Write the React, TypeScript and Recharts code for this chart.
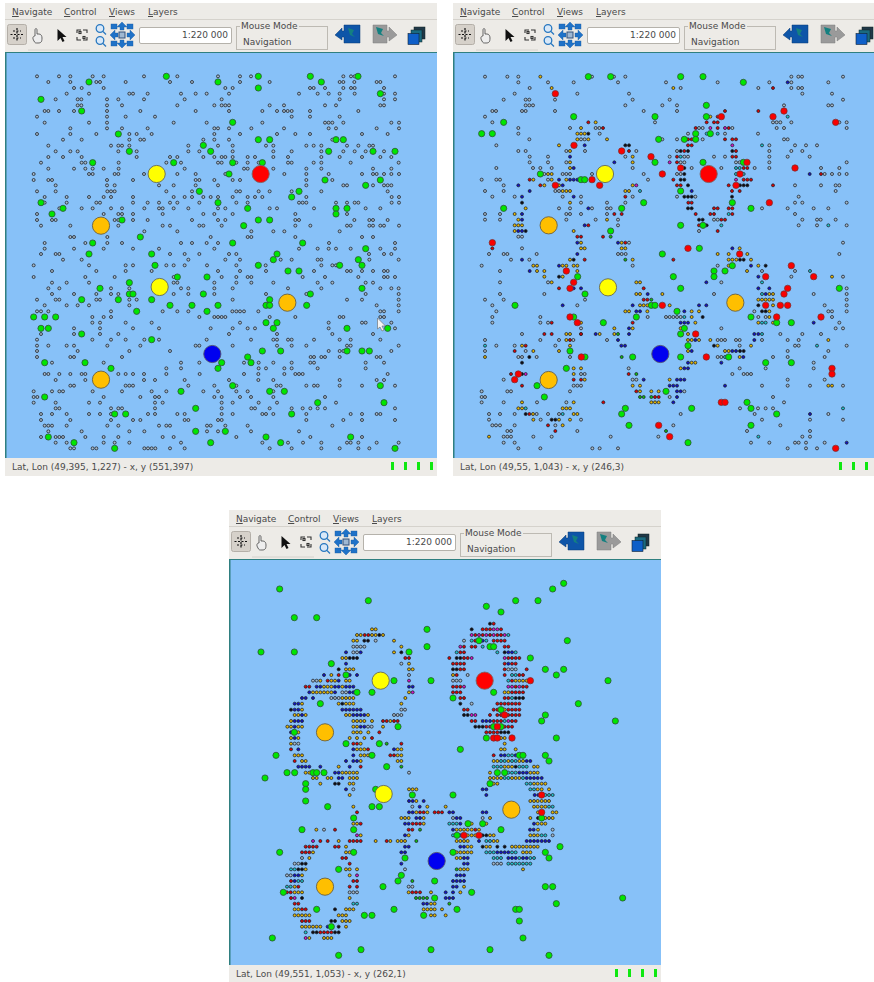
import React from "react";
import { ScatterChart, Scatter, XAxis, YAxis } from "recharts";

type Row = [number, Record<string, number[]>];

// ---------- Panel 1 (values are read at 3x scale of the picture)
const p1SmallTop: number[][] = [
  [229,111,177,211,278,311,432,532,654,720,753,1030,1053,1064,1185],
  [246,145,211,289,300,377,510,576,720,809,1019,1030,1063,1130,1141],
  [264,222,245,311,676,698,930,941,975,1030,1053,1064,1152],
  [281,200,267,388,399,443,543,587,620,687,897,953,986,1019,1064,1152,1185],
  [298,167,233,244,321,355,432,554,665,1019,1152,1185],
  [316,233,244,321,366,532,643,665,676,687,809,852,975,1008,1141,1152],
  [333,134,145,177,222,321,421,587,687,787,831,852,863,875,930,1075],
  [350,111,321,377,465,875,930,1019],
  [368,134,267,321,521,620,787,975,986,997,1030,1174,1197],
  [385,211,321,366,443,643,654,687,754,852,986,1008,1130,1197],
  [402,111,211,289,388,410,455,643,720,831,886,930,1086,1163],
  [419,189,245,388,421,432,610,643,687,997],
  [437,145,333,355,366,388,565,654,698,798,820,919,941,964,1041,1075,1108,1119],
  [454,167,211,233,355,410,565,598,698,820,875,964,1030,1064,1097,1152],
  [471,145,189,245,410,510,532,610,643,665,676,698,743,765,820,864,964,1019,1086,1141,1174],
  [488,123,245,256,356,499,543,654,665,709,743,776,864,875,941,964,1052,1196],
  [506,145,222,256,278,311,356,554,732,743,820,919,964,1119,1174],
  [522,101,267,278,344,355,432,532,587,676,853,919,986,1086,1119,1130,1152,1174,1197],
  [540,101,145,156,321,399,587,598,643,698,720,919,997],
  [556,167,321,344,477,521,587,654,919,1030,1041,1119,1152,1163,1174],
  [574,111,167,322,333,344,499,576,709,720,776,809,875,964,1163],
  [591,134,200,267,311,333,399,521,554,576,610,632,654,698,743,765,787,919,1175,1197],
  [608,134,200,289,300,399,443,477,510,532,598,709,743,897,908,919,1008,1041,1064,1075,1175,1197],
  [625,178,245,278,333,366,433,477,488,521,565,654,676,809,831,942,1097,1141],
  [642,111,311,355,366,399,488,610,643,698,886,1041],
  [660,111,156,167,344,355,399,443,576,654,676,886,897,1063,1108,1119,1163],
  [677,123,211,355,488,510,598,610,665,886,931,1041,1052,1108,1119,1141,1152,1197],
  [694,433,532,754,820,853,1019],
  [711,211,222,322,632,743,754,886,1086,1119],
  [729,134,256,322,366,543,576,620,654,987,1185],
  [746,134,222,311,399,477,643,897,953,986,1008,1052,1141,1185],
];
const p1SmallBottom: number[][] = [
  [12,123,167,178,510,554,598,687,709,1107,1152,1174],
  [29,189,245,565,676,720,842,875,953,964,1108,1196],
  [46,101,267,377,399,499,521,554,621,709,797,964,997,1008],
  [63,156,289,377,455,654,720,798,942,1041,1052,1086,1119,1152,1163],
  [81,101,256,344,521,665,709,743,754,908,975,1075,1152,1163,1185],
  [98,156,200,267,521,532,643,709,754,820,953,997,1097,1119],
  [115,145,178,333,388,543,565,643,698,864,964,1141,1174,1196],
  [132,156,222,289,333,355,521,565,643,798,919,1097,1196],
  [149,111,167,178,289,300,388,410,698,1041,1086,1196],
  [166,134,200,233,267,388,1130,1196],
  [184,111,123,145,333,488,532,565,697,709,720,732,775,1141,1152,1196],
  [201,277,311,333,598,643,654,665,676,809,886,1019,1030,1141,1152],
  [218,277,300,377,455,720,986,1086,1097,1174],
  [235,222,300,399,477,632,698,743,765,986,1185],
  [252,123,222,300,355,687,831,997,1119],
  [269,111,277,333,377,433,477,620,753,820,831,864,875,942,1019,1052,1141],
  [287,111,145,200,222,322,421,587,598,698,831,875,919,1041,1052,1196],
  [303,111,233,388,510,986,1019,1030,1174],
  [321,111,211,222,366,932,942,964,975,1019,1130,1141],
  [338,156,311,543,598,732,776,820,875,931,942,1097,1152],
  [355,499,543,776,798,853,875,953,1097],
  [372,134,145,178,211,245,256,355,377,399,432,499,599,732,775,853,886,897,908,1163],
  [390,167,256,432,465,554,687,775,820,1019,1130,1152],
  [407,211,222,377,388,399,565,643,709,830,842,919,942,953,1019,1086,1185],
  [424,101,156,178,189,278,366,455,499,610,654,709,743,820],
  [441,101,112,311,421,465,477,643,665,720,753,820,975],
  [458,101,167,267,300,465,488,665,698,776,831,1008],
  [475,167,178,333,355,366,465,665,754,765,809,875,908,931,953,975,1185],
  [492,123,156,200,267,300,333,444,465,532,554,665,698,787,798,820,919,1052,1086,1130,1141],
  [510,123,211,333,399,421,554,565,654,665,919,1030,1086,1185],
  [527,134,145,156,200,322,355,477,499,510,621,632,676,743,997],
  [544,145,245,388,433,621,654,753,897],
  [561,123,167,178,189,256,311,355,488,521,709,931,1086],
  [578,167,200,311,344,388,543,787,864,909,964,1041,1052,1075,1130,1196],
  [595,211,222,278,289,433,444,455,466,510,554,809,875,964,1019,1075,1108],
];
const p1GreenTop: number[][] = [
  [499,229],[775,229],[931,229],[1074,229],[267,246],[654,246],[964,246],[775,264],[123,298],[1141,281],[245,333],[698,367],[355,402],[775,419],[809,419],[1008,419],[1030,419],[610,436],[388,454],[632,454],[986,454],[1119,454],[1185,454],[278,488],[521,488],[698,488],[787,488],[687,522],[975,540],[1141,540],[1097,556],[598,574],[897,574],[875,591],[123,608],[189,625],[654,608],[743,625],[1008,625],[1041,625],[1008,642],[156,642],[366,660],[775,660],[809,660],[731,677],[421,711],[278,729],[698,729],[908,729],[1097,746],
];
const p1GreenBottom: number[][] = [
  [267,12],[455,12],[831,12],[820,29],[1075,29],[465,46],[775,46],[1019,46],[1086,46],[864,63],[897,63],[532,81],[621,81],[388,98],[300,115],[1086,115],[388,132],[399,132],[610,132],[931,132],[245,149],[355,149],[455,149],[809,149],[510,166],[576,166],[654,166],[798,166],[809,166],[920,166],[410,184],[621,184],[101,201],[134,201],[167,201],[798,218],[831,218],[123,235],[145,235],[820,235],[1041,235],[1163,235],[245,252],[455,269],[787,303],[842,303],[1041,303],[1086,303],[1108,303],[743,321],[134,338],[255,338],[665,338],[753,338],[333,355],[654,355],[698,407],[1141,407],[543,424],[809,424],[853,424],[134,441],[953,458],[1152,458],[587,475],[344,492],[377,492],[875,492],[587,544],[676,544],[145,561],[798,561],[1052,561],[222,578],[632,578],[842,578],[344,595],[1185,595],
];
const p1Yellow = [[470,522],[479,861]];
const p1Red = [[782,522]];
const p1Orange = [[303,677],[862,908],[303,1139]];
const p1Blue = [[637,1062]];

// ---------- Panel 2
const p2SmallTop: Row[] = [
  [80,{w:[105,172,205,426,492,526,1024,1045,1056,1179],o:[271]}],
  [97,{w:[205,294,371,504,648,803,958,1024,1135],b:[1013]}],
  [114,{w:[239,692,925,1024,1045,1056],o:[305,670],r:[969]}],
  [131,{w:[194,382,537,1057,1146]}],
  [149,{w:[161,227,238,315,548,659,1179]}],
  [166,{w:[227,238,249,526,637,681,1002,1135,1146]}],
  [183,{w:[127,138,216,227,315,581,681],r:[825,925]}],
  [200,{w:[105],o:[781],c:[1013],r:[803]}],
  [217,{w:[127,615,969,980,991,1024,1168,1190],r:[415,770,792,803],o:[437]}],
  [234,{w:[205,360,437,448,747,758,847,1190,980,1002],o:[393],r:[459,737,803,836],m:[781,825]}],
  [251,{w:[205,449,714,825,924],o:[382,393,404],k:[415],c:[770,803]}],
  [268,{w:[238,393,404,637,681,758,1002,1013],o:[382,415,471],r:[825,847,858,714,725]}],
  [286,{w:[139,1035,1068,1101,958],o:[327],b:[404],k:[526,537],c:[936],r:[714,725],m:[847]}],
  [303,{w:[205,227,349,405,559,681,958,1024,1057],o:[360],r:[537,703,858],k:[692,714,847]}],
  [320,{w:[239,294,526,659,703,714,792,825,958,1013,1079],b:[360],o:[548],c:[692],r:[681,847,858]}],
  [337,{w:[239,294,349,692,703,858,869,958,1190],o:[360,548],b:[493],m:[659],r:[681]}],
  [354,{w:[139,249,271,305,548,725,814,914,958,1113,1168],o:[360],b:[371],k:[703],c:[858,869],r:[881,892]}],
  [372,{w:[283,338,349,360,426,581,681,692,1124,1146,1168,1190],o:[294,305],r:[1113],b:[1079],k:[703],c:[858,881]}],
  [389,{w:[95,139,150,294,594],o:[250,305,349],r:[239,670,881,892,903],b:[327,360,371,382],k:[692,703],m:[858]}],
  [406,{w:[161,1035,1113,1157,1168],b:[205,338],o:[283,327,548],r:[271,681,692,836,969],m:[559],k:[714,870,881,892]}],
  [423,{w:[105,161,316,327,1157],o:[338,349,360,526,537],b:[239,725],r:[846,869],c:[570]}],
  [440,{w:[127,194,338,393,548,681,736,1046],b:[216,371],k:[703,714,725,846],r:[526]}],
  [458,{w:[393,471,526,1035,1057,1190],o:[360],k:[216],r:[715,725]}],
  [475,{w:[327,360,426,471,482,1013,1091,1135,936],o:[227],b:[415],k:[714,725],r:[792,803,836,847]}],
  [492,{w:[105,150,349,360,393,471,1035],o:[194],b:[216],r:[493,515,737,781,792,847],c:[836]}],
  [509,{w:[105,150,349,437,504,792,803,1057,1101,1112,1157],o:[205,471],b:[216],k:[747,758],r:[814,825]}],
  [526,{w:[1046,1101,1190,504],c:[1135,814],o:[194,205,216],b:[404],r:[415,747],k:[770]}],
  [543,{w:[747],o:[194,371],b:[205,216],k:[227],r:[803]}],
  [560,{w:[205,216],r:[382,393,459],n:[482]}],
  [578,{w:[537,1179],b:[382,504],o:[393,515],r:[526]}],
  [595,{w:[216],o:[393,404,515,526,869],r:[127],b:[847]}],
  [612,{w:[117,161,172,260,504,515,527,1168],b:[382],o:[803,836,892]}],
  [629,{w:[183,238],o:[360,548,836,847,859,903],b:[216],k:[371,870,881],r:[404,670],n:[526]}],
];
const p2SmallBottom: Row[] = [
  [17,{w:[95,548,803],o:[250,261,338,349,371,382,925,836],b:[327,903],k:[947]}],
  [33,{w:[150,1035,936],b:[239],o:[261,283,382,891],c:[1080]}],
  [50,{w:[1024,1179],o:[283,338,1146],k:[327],b:[925]}],
  [67,{w:[150,294,814],o:[305,559,570],b:[769],c:[936]}],
  [85,{w:[1190],r:[327,581],b:[371,393,925,958]}],
  [102,{w:[150,283,792,1091,1190],o:[559,570,637,958,969],b:[593,947],c:[936]}],
  [119,{w:[105,161,405,1190],r:[581,592],o:[925,936,947,958,969],n:[604]}],
  [136,{w:[127,382,1124,1190],b:[338,548,747,769],o:[570,581,592,659,969],k:[925]}],
  [154,{w:[139,1135,1146,1190,913],o:[526,537,592,747,725,958],b:[559,570,703],k:[936,947]}],
  [171,{w:[127,271,593,648,659,670,681,692,925,947,1146],o:[725,958],k:[758],c:[703]}],
  [188,{w:[127,271,294,1168],r:[305,548],o:[393,736,925,969],b:[692,703,714,1091],c:[936,947]}],
  [205,{w:[393,814,1157,1179],o:[493,548,692],b:[537]}],
  [222,{w:[216,393,991,1057,1113],r:[283,305,393],o:[349,360,449,493,714],b:[437,537,913,925],n:[504],c:[936]}],
  [240,{w:[105,271,327,471,1013,1046,370,803,814,825,858,869,936],o:[349,1135,714,725,781,747],b:[504,736,913],r:[360]}],
  [257,{w:[139,194,316,869,1035,1046,1190],c:[105,1101],o:[216,360,803,903],r:[227],b:[514,525],k:[792]}],
  [273,{w:[105,227,1013,1135],r:[194],o:[250,327,714,825,836],b:[725,847,858],k:[870,881]}],
  [291,{w:[205,216,260,360,803,814,969,1013,1124],o:[105,869],k:[238],n:[515],c:[825],b:[880]}],
  [308,{w:[1091],k:[216],o:[725,736],b:[714,814]}],
  [325,{w:[536,869,947,1091],o:[371,393,692],b:[703,714]}],
  [342,{w:[393,404,847,881,892,903],r:[183,536],m:[227],k:[216],o:[371],n:[559]}],
  [359,{w:[161,548,559,1013,1124],r:[371,393],o:[404,659],b:[581,681,692,703]}],
  [377,{w:[371,382,393,936,1013,1080,1179],r:[216],o:[548,570,1135,1146],b:[659,670,681,825]}],
  [394,{w:[95,172,183,360,703],r:[559],o:[570,604,626],b:[681,692]}],
  [411,{w:[95,105,969,659],n:[570,581,604],r:[615,626],b:[681]}],
  [427,{w:[95,161,261,349,1002],o:[216,371,604,615,626],r:[460],b:[670]}],
  [445,{w:[870,924,947,969],o:[205,216,338,349,360],c:[227,1179]}],
  [462,{w:[117,150,194,294,327,692,914,1135,260],k:[227],r:[238],o:[249,371,382],c:[338],b:[1080]}],
  [479,{w:[117,272,393,936,1080,1179],o:[250,360,327],k:[305,316]}],
  [496,{w:[127,138,150,194,316,670,991],r:[294],o:[338]}],
  [513,{w:[172,183,382,891,1080],r:[316],n:[648]}],
  [530,{w:[161,172,183,250,305,482,625,1057,1080],o:[117],c:[925]}],
  [548,{w:[161,194,903,958,1035,1046,1068,1124],b:[1190]}],
  [565,{w:[205,271,427,449,504,1013,1068,1101]}],
];
const p2GreenTop: number[][] = [
  [415,80],[482,80],[692,80],[759,80],[880,97],[769,166],[371,200],[615,200],[769,200],[161,217],[95,251],[127,251],[737,251],[781,251],[626,268],[703,268],[737,268],[615,337],[759,337],[880,337],[271,372],[393,389],[404,389],[692,423],[581,458],[847,458],[161,475],[515,475],[903,475],[692,526],[759,526],[482,543],[748,595],[637,612],
];
const p2GreenBottom: number[][] = [
  [847,17],[792,33],[825,33],[383,50],[670,50],[792,50],[692,85],[1168,85],[405,102],[604,136],[615,136],[195,136],[681,154],[559,171],[371,171],[903,171],[460,188],[980,188],[1024,188],[703,205],[692,222],[714,257],[360,273],[405,291],[548,291],[692,291],[836,291],[947,308],[1024,308],[349,325],[261,377],[648,394],[283,411],[891,427],[526,445],[725,445],[903,445],[515,462],[980,462],[537,496],[903,496],[714,548],
];
const p2RedTop: number[][] = [
  [316,131],[1002,183],[969,200],[814,200],[1157,217],[372,286],[515,303],[603,320],[891,337],[692,354],[1035,354],[637,372],[426,389],[870,372],[316,406],[449,406],[858,406],[958,458],[127,578],[714,595],[869,612],
];
const p2RedBottom: number[][] = [
  [1024,17],[349,33],[947,50],[1091,50],[371,67],[1013,85],[360,85],[1002,102],[637,136],[947,136],[991,136],[1013,136],[360,171],[980,171],[1113,171],[382,188],[737,222],[394,291],[769,291],[1146,325],[1146,342],[205,342],[194,359],[814,427],[825,427],[626,496],[659,530],[1157,565],
];
const p2Yellow = [[465,372],[474,712]];
const p2Red = [[776,372]];
const p2Orange = [[296,526],[856,758],[296,990]];
const p2Blue = [[631,912]];

// ---------- Panel 3
const p3SmallTop: Row[] = [
  [191,{k:[780],r:[791]}],
  [208,{o:[426,437],k:[725],r:[758,769,780,813],m:[791,802]}],
  [225,{o:[381,392,426,437,459],r:[404,415,736,758,780,802,813],k:[448],m:[725,747,769,791,824],c:[835]}],
  [242,{o:[370,381,492],k:[403,414],w:[437,702],c:[725,769],r:[736,791,802,813,824],b:[758]}],
  [260,{w:[370,381,392,403],o:[514],m:[691],r:[702,725,736,824,835],c:[758]}],
  [277,{b:[348,392,835,846],w:[370,381],o:[492],k:[514,824],c:[680,802,857],r:[691,702]}],
  [294,{o:[337,348],k:[359,370,381,680,691],r:[526,537,658,702,713,835,846,857,868],m:[725,824]}],
  [311,{b:[348,835],w:[514],o:[537],r:[669,680,691,702,824,846,857]}],
  [328,{k:[326,669,680],o:[348,359,370,537,548],r:[691,702,824,890],w:[835,846,857]}],
  [345,{o:[304,669],r:[326,680,824,868,879],b:[282,359,381],w:[537,713],c:[846,857]}],
  [362,{w:[249,260,669,680,691],o:[271,304,315,348,359,857,868,879,890],r:[293,846],b:[326],m:[537],c:[835]}],
  [380,{r:[227,238,669,680,691,857,879,890],b:[260,271,315,326,348,359,370,537,548],o:[282,293,304,337],m:[702,835,846,868]}],
  [397,{b:[238,315,359,370],o:[249,260,271,282,293,304,537,824,835],w:[337,348],m:[548],r:[669,680,691,846,857,868,879]}],
  [414,{b:[216,227,249],w:[304,315,326],o:[337,348,359,370,526],r:[691,702,824,835],c:[846],k:[857,868,879]}],
  [431,{b:[194,205],o:[216,326,348,359,370,514],k:[337,691],w:[725],r:[802,813,824,835,846,857,868]}],
  [449,{k:[183],b:[194,205,337,348,359,370,381,392],o:[216,824],w:[514,525],r:[702,713,791,802,835,846,857,868]}],
  [465,{o:[194,205,227,348,359,414],b:[216,370,381,392,403],w:[492,503,514],k:[702,713],m:[725,736],r:[780,802,813,835,846,857,868]}],
  [483,{o:[183,370,381,392,403,426,481],b:[194,205,216,758,769,780],r:[459,470,492,503,725,736,791,802,813,846,857],m:[835],c:[824]}],
  [500,{o:[172,183,205,216,370,381,459],b:[194,392,403],w:[414,425],k:[736,747,758],r:[769,780,824,835,846]}],
  [517,{b:[183],o:[205,370,381,392,415],r:[448,769,780,791,802],k:[813,824,835]}],
  [534,{o:[183,205,359,381,403,813,824],b:[194],r:[426]}],
  [551,{o:[183,392,824],w:[194,205],r:[370,381,514],n:[470]}],
  [568,{r:[183,414],b:[205,370,492],o:[381,392,403,503,514,813,824,857]}],
  [586,{o:[194,205,216,392,403,414,503,514],b:[370,813,824,857],r:[481,492,791],c:[835,846]}],
  [603,{r:[194],o:[216,227,392,503,514,791,802,835,868,879],b:[348,370,381,890,901],c:[813,824,846,857]}],
  [620,{b:[205,216,227,238,271,359],o:[326,824,835,846,912,923],r:[392],n:[514],c:[791,802,813,868,879,890],k:[857]}],
];
const p3SmallBottom: Row[] = [
  [8,{o:[227,238,337,348,359,370,381,780,901,912,923],b:[315,326,868,879,890],w:[537],c:[835,846,857]}],
  [24,{o:[249,260,293,304,359,370,381,780,791,802,813,846,857,868],b:[326,337,890,901,912,923,935],c:[824,835,879]}],
  [41,{o:[271,359,370,791,802,912,923,935,946],k:[315,326],c:[890,901]}],
  [58,{b:[348,758,769],w:[370],o:[537,548,559,923,935,957],c:[901,912]}],
  [75,{o:[359],b:[769,914,925],c:[946,957,968]}],
  [93,{b:[537,548,581],o:[559,901,912,923,935,946,957]}],
  [110,{o:[370,592,647,912,923,935,946],w:[547],b:[569],c:[957,968]}],
  [127,{r:[381,570,581,614,625,636],b:[537,548,658,669,758,769],o:[559,592,924,968,979]}],
  [144,{o:[514,525,536,581,780,901,946,957,968],b:[559,570,680,691],w:[669,758],k:[924]}],
  [161,{o:[370,381,581,725,769,923,935,946],r:[392,548,559,570],b:[525,536,691,912],c:[658,669,680]}],
  [179,{o:[259,680,691,702,713,725,747,924],w:[282,968],r:[315,536,547,736],n:[570],b:[669,900,911]}],
  [196,{m:[381],o:[392,536,713,725,736,780,791,901,912,923],b:[525,691],c:[669,935,946],k:[758,769],w:[968]}],
  [213,{m:[249],r:[271,293,359,370,381,392,470],o:[326,437,481,503,514,525,680,691,702,713,791,802],n:[559],b:[747,890,901,912,923,935,946,957],c:[769,780]}],
  [230,{r:[227,238,249,260,315,326],o:[348,713,724,769,780,846,857,868,879,890,901,912,923],b:[525,536,691,702],k:[758,802,824]}],
  [247,{r:[216,227,238],o:[249,348,359,680,691,702,713,724,879,890,901],b:[514,525,802,813,824,835],c:[769,780,791,846,857]}],
  [264,{w:[216],o:[238,680,691],r:[337,348],b:[702,713,835,846,857,879,890],c:[791,802,813,868,901,912]}],
  [281,{w:[194,205,791,802,813],k:[216,227],r:[359],b:[514,702,713],c:[835,846,857,868,879,890,901]}],
  [298,{c:[183,194],k:[205,216],o:[227,348,359,381,691,702,713,879],w:[525],n:[680]}],
  [316,{w:[171,182],b:[194,205,680,691,702],o:[216,359],m:[381]}],
  [333,{r:[183,370,381],b:[194,669,680,691,702],c:[205,216],n:[547]}],
  [350,{c:[171,182],o:[194,702],r:[205,359,381],w:[536,547],b:[669,680]}],
  [367,{r:[171,182,547,558,570],o:[194,205,216,536,603,691],w:[359,370,381],b:[647,669]}],
  [384,{r:[183],m:[194],k:[216],o:[359],n:[558,569,580,591],b:[647,658,669]}],
  [401,{r:[194,205],c:[370,381],b:[580,591],o:[603,614],n:[658]}],
  [418,{o:[194,205,348,359,370,581,592,603,614,636],r:[216,227],k:[315]}],
  [436,{o:[194,205,216,227,238,326,337,348,603,614,647]}],
  [453,{r:[216,227,238],k:[304,315],o:[337,348,359]}],
  [470,{o:[216,227,238,249,260,271,348],b:[293],k:[326]}],
  [487,{c:[227],k:[249,260,315,326],r:[271,282,293,304]}],
  [504,{m:[227],o:[238,282,293,304]}],
];
const p3GreenTop: number[][] = [
  [149,87],[415,122],[193,173],[260,173],[591,208],[93,276],[193,276],[591,260],[537,276],[304,311],[348,345],[492,362],[603,362],[381,397],[426,397],[271,431],[504,500],[193,517],[348,551],[448,551],[138,586],[426,586],[470,620],[1001,70],[968,87],[857,122],[924,122],[769,139],[813,156],[747,242],[1012,242],[780,260],[791,260],[901,294],[946,328],[1001,328],[979,345],[1134,362],[791,397],[669,414],[1045,431],[813,449],[946,465],[935,483],[1156,483],[791,500],[813,500],[769,534],[979,534],[691,568],[868,586],[879,586],[946,586],[957,603],
];
const p3GreenBottom: number[][] = [
  [105,24],[171,8],[194,8],[249,8],[260,8],[282,8],[227,41],[227,58],[227,93],[293,110],[426,110],[448,110],[437,58],[371,144],[216,179],[371,179],[149,247],[371,247],[326,298],[514,316],[504,333],[459,350],[160,367],[260,418],[492,418],[403,436],[426,436],[304,470],[127,504],[326,556],[393,539],[603,539],[780,539],[957,556],[879,504],[868,453],[857,418],[868,418],[979,401],[1178,384],[946,350],[968,350],[725,367],[614,384],[681,418],[581,436],[614,333],[525,264],[669,247],[813,179],[990,230],[946,247],[957,264],[547,75],[669,75],[780,41],[802,8],[824,8],[714,161],[758,161],[681,196],[935,144],
];
const p3RedTop: number[][] = [[901,362],[824,465],[802,500],[791,534],[802,534],[846,534]];
const p3RedBottom: number[][] = [[935,75],[935,127],[702,196],[747,196]];
const p3Yellow = [[452,362],[461,702]];
const p3Red = [[764,362]];
const p3Orange = [[285,517],[844,749],[285,980]];
const p3Blue = [[620,903]];

const menus = ["Navigate", "Control", "Views", "Layers"];
const scaleText = "1:220 000";
const groupTitle = "Mouse Mode";
const modeText = "Navigation";
const statusTexts = [
  "Lat, Lon (49,395, 1,227) - x, y (551,397)",
  "Lat, Lon (49,55, 1,043) - x, y (246,3)",
  "Lat, Lon (49,551, 1,053) - x, y (262,1)",
];

// ---------- helpers
type P = { x: number; y: number };
const rowsToPts = (rows: number[][], dy = 0): P[] =>
  rows.flatMap(([y, ...xs]) => xs.map((x) => ({ x, y: y + dy })));
const pairsToPts = (pairs: number[][], dy = 0): P[] => pairs.map(([x, y]) => ({ x, y: y + dy }));
const rowsByKey = (rows: Row[], key: string, dy = 0): P[] =>
  rows.flatMap(([y, m]) => (m[key] || []).map((x) => ({ x, y: y + dy })));

const FONT = '"DejaVu Sans", sans-serif';
const smallFill: Record<string, string> = {
  w: "#a6bacb", o: "#e8b800", r: "#e00000", k: "#0c0c14", b: "#1212c8", c: "#20c4cc", m: "#d814c8", n: "#10c010",
};

const dot = (r: number, fill: string, stroke: string, sw: number) => (props: any) => (
  <circle cx={props.cx} cy={props.cy} r={r} fill={fill} stroke={stroke} strokeWidth={sw} />
);
const shapes: Record<string, any> = Object.fromEntries(
  Object.entries(smallFill).map(([k, c]) => [k, dot(1.5, c, "#20242c", 0.8)]),
);
const greenDot = dot(3.1, "#00e600", "#30503a", 0.8);
const redDot = dot(3.2, "#fa0000", "#703030", 0.7);
const yellowDot = dot(8.6, "#ffff00", "#6a6a50", 0.9);
const bigRedDot = dot(8.6, "#ff0000", "#806060", 0.9);
const orangeDot = dot(8.6, "#ffbf00", "#6a6040", 0.9);
const blueDot = dot(8.6, "#0000f0", "#505070", 0.9);

function Map3x({ x0, y0, small, green, red, yellow, bigRed, orange, blue }: any) {
  return (
    <ScatterChart width={432} height={406} margin={{ top: 0, right: 0, bottom: 0, left: 0 }}>
      <XAxis type="number" dataKey="x" hide domain={[x0, x0 + 1296]} allowDataOverflow />
      <YAxis type="number" dataKey="y" hide reversed domain={[y0, y0 + 1218]} allowDataOverflow />
      {Object.keys(small).map((k) => (
        <Scatter key={k} data={small[k]} shape={shapes[k]} isAnimationActive={false} />
      ))}
      <Scatter data={green} shape={greenDot} isAnimationActive={false} />
      <Scatter data={red} shape={redDot} isAnimationActive={false} />
      <Scatter data={yellow} shape={yellowDot} isAnimationActive={false} />
      <Scatter data={bigRed} shape={bigRedDot} isAnimationActive={false} />
      <Scatter data={orange} shape={orangeDot} isAnimationActive={false} />
      <Scatter data={blue} shape={blueDot} isAnimationActive={false} />
    </ScatterChart>
  );
}

function Icons() {
  return (
    <svg width={437} height={34} style={{ position: "absolute", left: -5, top: 14 }}>
      {/* pan */}
      <rect x={7.5} y={7.5} width={19} height={20} rx={2} fill="#d6d1ca" stroke="#b4afa8" />
      <g stroke="#111" strokeWidth={1.2} strokeDasharray="2 1.500" fill="none">
        <path d="M17 11v13M10.500 17.500h13M13 14h8M13 21h8" />
      </g>
      <path d="M28 33h62" stroke="#d5d2cc" />
      {/* hand */}
      <path d="M34 24c-2-3-1-5 1-5v-6c0-2 2-2 2 0v4h2c2 0 3 2 3 4 0 4-1 5-4 5s-3 0-4-2z" fill="#eee" stroke="#444" strokeWidth={0.8} />
      {/* arrow */}
      <path d="M57.500 12l0 12 3-3 2 4 2-1-2-4h4z" fill="#111" />
      {/* frame */}
      <g fill="none" stroke="#333" strokeWidth={1.1}>
        <path d="M77 16v-3h4M83 13h4v3M77 20v3h4M83 23h4v-3" />
        <rect x={79} y={14.500} width={2} height={2} />
        <rect x={83} y={19.500} width={2} height={2} />
      </g>
      {/* zoom */}
      <g fill="#d8e8f8" stroke="#2878c0" strokeWidth={1.3}>
        <circle cx={100} cy={11.500} r={3.800} />
        <path d="M103 14.500l3 3" />
        <circle cx={100} cy={23.500} r={3.800} />
        <path d="M103 26.500l3 3" />
      </g>
      {/* navigator */}
      <g fill="#1f72c8" stroke="#1a5aa0" strokeWidth={0.4}>
        <path d="M122 5l5 5h-3v3h-4v-3h-3z" />
        <path d="M122 31l5-5h-3v-3h-4v3h-3z" />
        <path d="M110 18l5-5v3h3v4h-3v3z" />
        <path d="M135 18l-5-5v3h-3v4h3v3z" />
        <rect x={111} y={7} width={6} height={5} />
        <rect x={127} y={7} width={6} height={5} />
        <rect x={111} y={24} width={6} height={5} />
        <rect x={127} y={24} width={6} height={5} />
      </g>
      <rect x={119} y={15} width={6} height={6} fill="#9fb8d2" stroke="#33507a" />
      {/* back */}
      <path d="M335 18l7-7v3h2v-6h16v18h-16v-6h-2v3z" fill="#0e55a8" stroke="#0a3a74" strokeWidth={0.5} />
      <path d="M348 11l6 2-2 4 3 3-5-2z" fill="#148080" />
      {/* forward */}
      <path d="M397 18l-8-8v4h-2v-6h-14v18h14v-6h2v4z" fill="#9a9a9a" stroke="#7c7c7c" strokeWidth={0.5} />
      <path d="M376 10l7 2-2 4 3 3-6-2z" fill="#148080" />
      {/* layers */}
      <rect x={414} y={10} width={11} height={12} fill="#203848" stroke="#122" strokeWidth={0.5} />
      <rect x={411} y={13} width={11} height={12} fill="#1a6a80" stroke="#122" strokeWidth={0.5} />
      <rect x={408} y={16.500} width={11} height={11} fill="#0f5fc8" stroke="#123" strokeWidth={0.6} />
    </svg>
  );
}

const MENU_X = [7, 59, 104, 143];
const LED_X = [386, 399, 412, 425];

function Panel({ left, top, status, mapProps }: any) {
  const abs = (l: number, t: number): React.CSSProperties => ({ position: "absolute", left: l, top: t });
  return (
    <div style={{ position: "absolute", left, top, width: 432, height: 473, background: "#edebe7", fontFamily: FONT, fontSize: 9, color: "#4a4a4a", overflow: "hidden" }}>
      <div style={{ ...abs(0, 16), width: 432, height: 1, background: "#d5d2cc" }} />
      {menus.map((m, i) => (
        <span key={m} style={{ ...abs(MENU_X[i], 3), lineHeight: "12px", whiteSpace: "nowrap" }}>
          <span style={{ textDecoration: "underline" }}>{m[0]}</span>
          {m.slice(1)}
        </span>
      ))}
      <Icons />
      <div style={{ ...abs(134, 24), width: 91, height: 15, background: "#fff", border: "1px solid #b5b2ab", borderRadius: 2, textAlign: "right", lineHeight: "15px" }}>
        <span style={{ marginRight: 3 }}>{scaleText}</span>
      </div>
      <div style={{ ...abs(231, 23), width: 90, height: 22, border: "1px solid #bdbab3" }} />
      <span style={{ ...abs(235, 17), background: "#edebe7", padding: "0 1px", lineHeight: "12px", whiteSpace: "nowrap" }}>{groupTitle}</span>
      <span style={{ ...abs(238, 33), lineHeight: "12px" }}>{modeText}</span>
      <div style={{ ...abs(0, 49), width: 432, height: 406, background: "#87c1f8", boxShadow: "inset 1.5px 1px 0 #2f7f80", overflow: "hidden" }}>
        <Map3x {...mapProps} />
        {mapProps.cursor ? (
          <svg width={432} height={406} style={{ position: "absolute", left: 0, top: 0 }}>
            <path d="M372.500 266l0 11 2.500-2 2 4 2-1-2-4 3.500 0z" fill="#f4f4f4" stroke="#666" strokeWidth={0.6} />
          </svg>
        ) : null}
      </div>
      <span style={{ ...abs(7, 458), lineHeight: "12px", whiteSpace: "nowrap" }}>{status}</span>
      {LED_X.map((x) => (
        <div key={x} style={{ ...abs(x, 459), width: 3, height: 8, background: "#10e810" }} />
      ))}
    </div>
  );
}

const smallKeys = ["w", "o", "r", "k", "b", "c", "m", "n"];
const byKey = (top: Row[], bottom: Row[]) =>
  Object.fromEntries(smallKeys.map((k) => [k, [...rowsByKey(top, k), ...rowsByKey(bottom, k, 630)]]));

const map1 = {
  x0: 15, y0: 156, cursor: true,
  small: { w: [...rowsToPts(p1SmallTop), ...rowsToPts(p1SmallBottom, 750)] },
  green: [...pairsToPts(p1GreenTop), ...pairsToPts(p1GreenBottom, 750)],
  red: [], yellow: pairsToPts(p1Yellow), bigRed: pairsToPts(p1Red), orange: pairsToPts(p1Orange), blue: pairsToPts(p1Blue),
};
const map2 = {
  x0: 9, y0: 6,
  small: byKey(p2SmallTop, p2SmallBottom),
  green: [...pairsToPts(p2GreenTop), ...pairsToPts(p2GreenBottom, 630)],
  red: [...pairsToPts(p2RedTop), ...pairsToPts(p2RedBottom, 630)],
  yellow: pairsToPts(p2Yellow), bigRed: pairsToPts(p2Red), orange: pairsToPts(p2Orange), blue: pairsToPts(p2Blue),
};
const map3 = {
  x0: -3, y0: -3,
  small: byKey(p3SmallTop, p3SmallBottom),
  green: [...pairsToPts(p3GreenTop), ...pairsToPts(p3GreenBottom, 630)],
  red: [...pairsToPts(p3RedTop), ...pairsToPts(p3RedBottom, 630)],
  yellow: pairsToPts(p3Yellow), bigRed: pairsToPts(p3Red), orange: pairsToPts(p3Orange), blue: pairsToPts(p3Blue),
};

export default function App() {
  return (
    <div style={{ position: "absolute", left: 0, top: 0, width: 874, height: 982, overflow: "hidden", background: "#fff" }}>
      <Panel left={5} top={3} status={statusTexts[0]} mapProps={map1} />
      <Panel left={453} top={3} status={statusTexts[1]} mapProps={map2} />
      <Panel left={229} top={510} status={statusTexts[2]} mapProps={map3} />
    </div>
  );
}
